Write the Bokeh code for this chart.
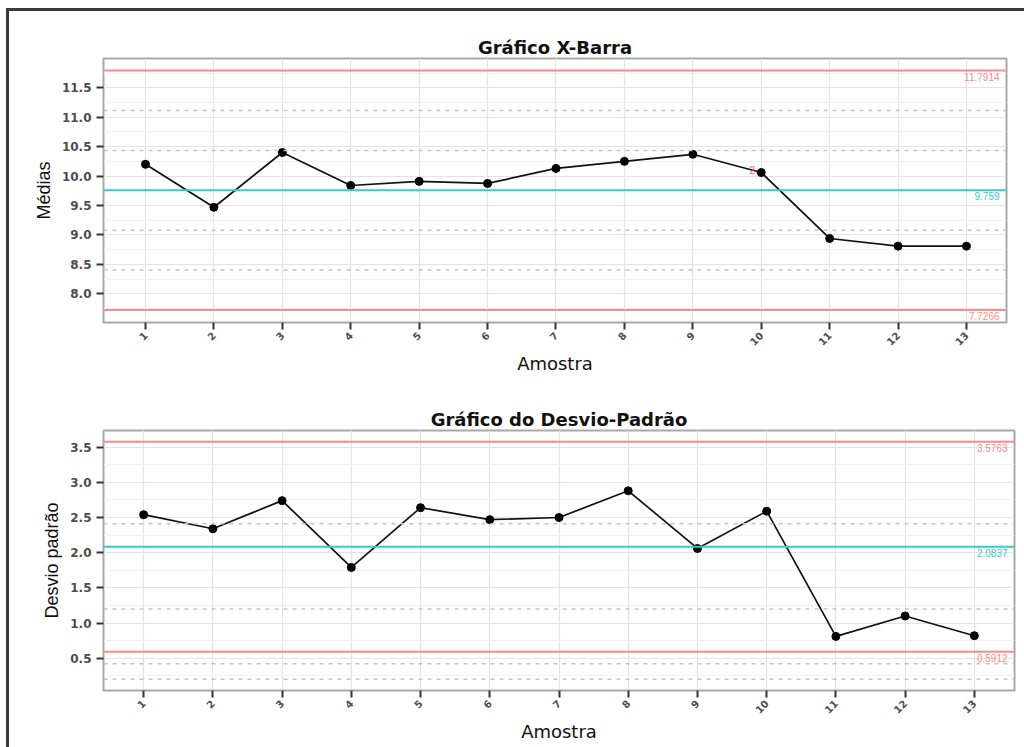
import math
from bokeh.plotting import figure
from bokeh.models import Span, Label, FixedTicker, Range1d
from bokeh.layouts import column
from bokeh.embed import file_html
from bokeh.resources import INLINE

# ---------------- data ----------------
amostras = list(range(1, 14))
x_labels = [str(i) for i in amostras]

medias = [10.20, 9.47, 10.40, 9.84, 9.91, 9.875, 10.13, 10.25, 10.37, 10.06, 8.94, 8.81, 8.81]
desvios = [2.54, 2.34, 2.74, 1.79, 2.64, 2.47, 2.50, 2.88, 2.06, 2.59, 0.81, 1.10, 0.82]

xbar_ucl, xbar_cl, xbar_lcl = 11.7914, 9.759, 7.7266
xbar_ucl_txt, xbar_cl_txt, xbar_lcl_txt = "11.7914", "9.759", "7.7266"
xbar_zones = [11.114, 10.4365, 9.0815, 8.404]

s_ucl, s_cl, s_lcl = 3.5763, 2.0837, 0.5912
s_ucl_txt, s_cl_txt, s_lcl_txt = "3.5763", "2.0837", "0.5912"
s_zones = [2.41, 1.20, 0.42, 0.20]

xbar_yticks = [8.0, 8.5, 9.0, 9.5, 10.0, 10.5, 11.0, 11.5]
xbar_ytick_labels = ["8.0", "8.5", "9.0", "9.5", "10.0", "10.5", "11.0", "11.5"]
s_yticks = [0.5, 1.0, 1.5, 2.0, 2.5, 3.0, 3.5]
s_ytick_labels = ["0.5", "1.0", "1.5", "2.0", "2.5", "3.0", "3.5"]

xbar_flag_sample = 10
xbar_flag_text = "2"

RED = "#ff8a8a"
CYAN = "#33cccc"
GREY_DASH = "#c4c4c4"
LABEL_FONT = "Liberation Sans"


def make_chart(title, ylabel, values, ucl, cl, lcl, texts, zones, yticks, ylabels,
               xr, yr, left, top, fw, fh, bottom, right=18):
    p = figure(width=left + fw + right, height=top + fh + bottom,
               frame_width=fw, frame_height=fh,
               min_border_left=left, min_border_right=right,
               min_border_top=top, min_border_bottom=bottom,
               x_range=Range1d(*xr), y_range=Range1d(*yr),
               output_backend="svg", toolbar_location=None, title=title)
    p.title.align = "center"
    p.title.text_font = "DejaVu Sans"
    p.title.text_font_size = "18px"
    p.title.text_font_style = "bold"
    p.title.text_color = "#111111"
    p.title.standoff = 1

    p.background_fill_color = "white"
    p.border_fill_color = "white"
    p.outline_line_color = "#a8a8a8"
    p.outline_line_width = 2

    minor = [t + 0.25 for t in yticks] + [yticks[0] - 0.25]
    p.yaxis.ticker = FixedTicker(ticks=yticks, minor_ticks=minor)
    p.yaxis.major_label_overrides = {t: s for t, s in zip(yticks, ylabels)}
    p.xaxis.ticker = FixedTicker(ticks=amostras)
    p.xaxis.major_label_overrides = {i: s for i, s in zip(amostras, x_labels)}
    p.xgrid.grid_line_color = "#e3e3e3"
    p.xgrid.grid_line_width = 1.2
    p.ygrid.grid_line_color = "#e3e3e3"
    p.ygrid.grid_line_width = 1.2
    p.ygrid.minor_grid_line_color = "#f1f1f1"
    p.ygrid.minor_grid_line_width = 1

    for ax in (p.xaxis, p.yaxis):
        ax.axis_line_color = None
        ax.major_tick_line_color = "#333333"
        ax.major_tick_line_width = 2
        ax.major_tick_out = 7
        ax.major_tick_in = 0
        ax.minor_tick_line_color = None
        ax.major_label_text_color = "#4d4d4d"
        ax.major_label_text_font = "DejaVu Sans"
        ax.major_label_text_font_style = "bold"
        ax.axis_label_text_font_style = "normal"
        ax.axis_label_text_color = "#111111"

    p.yaxis.major_label_text_font_size = "12px"
    p.yaxis.major_label_standoff = 5
    p.yaxis.axis_label = ylabel
    p.yaxis.axis_label_text_font = "Liberation Sans"
    p.yaxis.axis_label_text_font_size = "18px"
    p.yaxis.axis_label_standoff = 5

    p.xaxis.major_label_text_font_size = "10px"
    p.xaxis.major_label_orientation = math.pi / 4
    p.xaxis.major_label_standoff = 4
    p.xaxis.axis_label = "Amostra"
    p.xaxis.axis_label_text_font = "DejaVu Sans"
    p.xaxis.axis_label_text_font_size = "18px"
    p.xaxis.axis_label_standoff = 1

    for z in zones:
        p.add_layout(Span(location=z, dimension="width", line_color=GREY_DASH,
                          line_width=1.5, line_dash="4 5"))
    for v, c in ((ucl, RED), (lcl, RED), (cl, CYAN)):
        p.add_layout(Span(location=v, dimension="width", line_color=c, line_width=2))

    for v, t, c in ((ucl, texts[0], RED), (cl, texts[1], CYAN), (lcl, texts[2], RED)):
        p.add_layout(Label(x=xr[1], y=v, text=t, text_align="right", text_baseline="top",
                           x_offset=-7, y_offset=-2, text_font_size="10px",
                           text_font=LABEL_FONT, text_color=c))

    p.line(amostras, values, line_color="#111111", line_width=1.7)
    p.scatter(amostras, values, size=8, color="#000000")
    return p


p1 = make_chart("Gráfico X-Barra", "Médias", medias, xbar_ucl, xbar_cl, xbar_lcl,
                (xbar_ucl_txt, xbar_cl_txt, xbar_lcl_txt), xbar_zones,
                xbar_yticks, xbar_ytick_labels,
                (0.386, 13.585), (7.513, 11.997), left=94, top=47, fw=903, fh=264, bottom=73)
p1.add_layout(Label(x=xbar_flag_sample, y=medias[xbar_flag_sample - 1], text=xbar_flag_text,
                    text_align="center", text_baseline="middle", x_offset=-9, y_offset=3,
                    text_font_size="10px", text_color="#ff5555"))

p2 = make_chart("Gráfico do Desvio-Padrão", "Desvio padrão", desvios, s_ucl, s_cl, s_lcl,
                (s_ucl_txt, s_cl_txt, s_lcl_txt), s_zones, s_yticks, s_ytick_labels,
                (0.42, 13.58), (0.041, 3.737), left=86, top=35, fw=911, fh=260, bottom=57)

layout = column(p1, p2, spacing=0,
                styles={"border-top": "3px solid #3a3a3a", "border-left": "3px solid #3a3a3a",
                        "margin-top": "8px", "margin-left": "6px"})

open("out.html", "w").write(file_html(layout, INLINE))
